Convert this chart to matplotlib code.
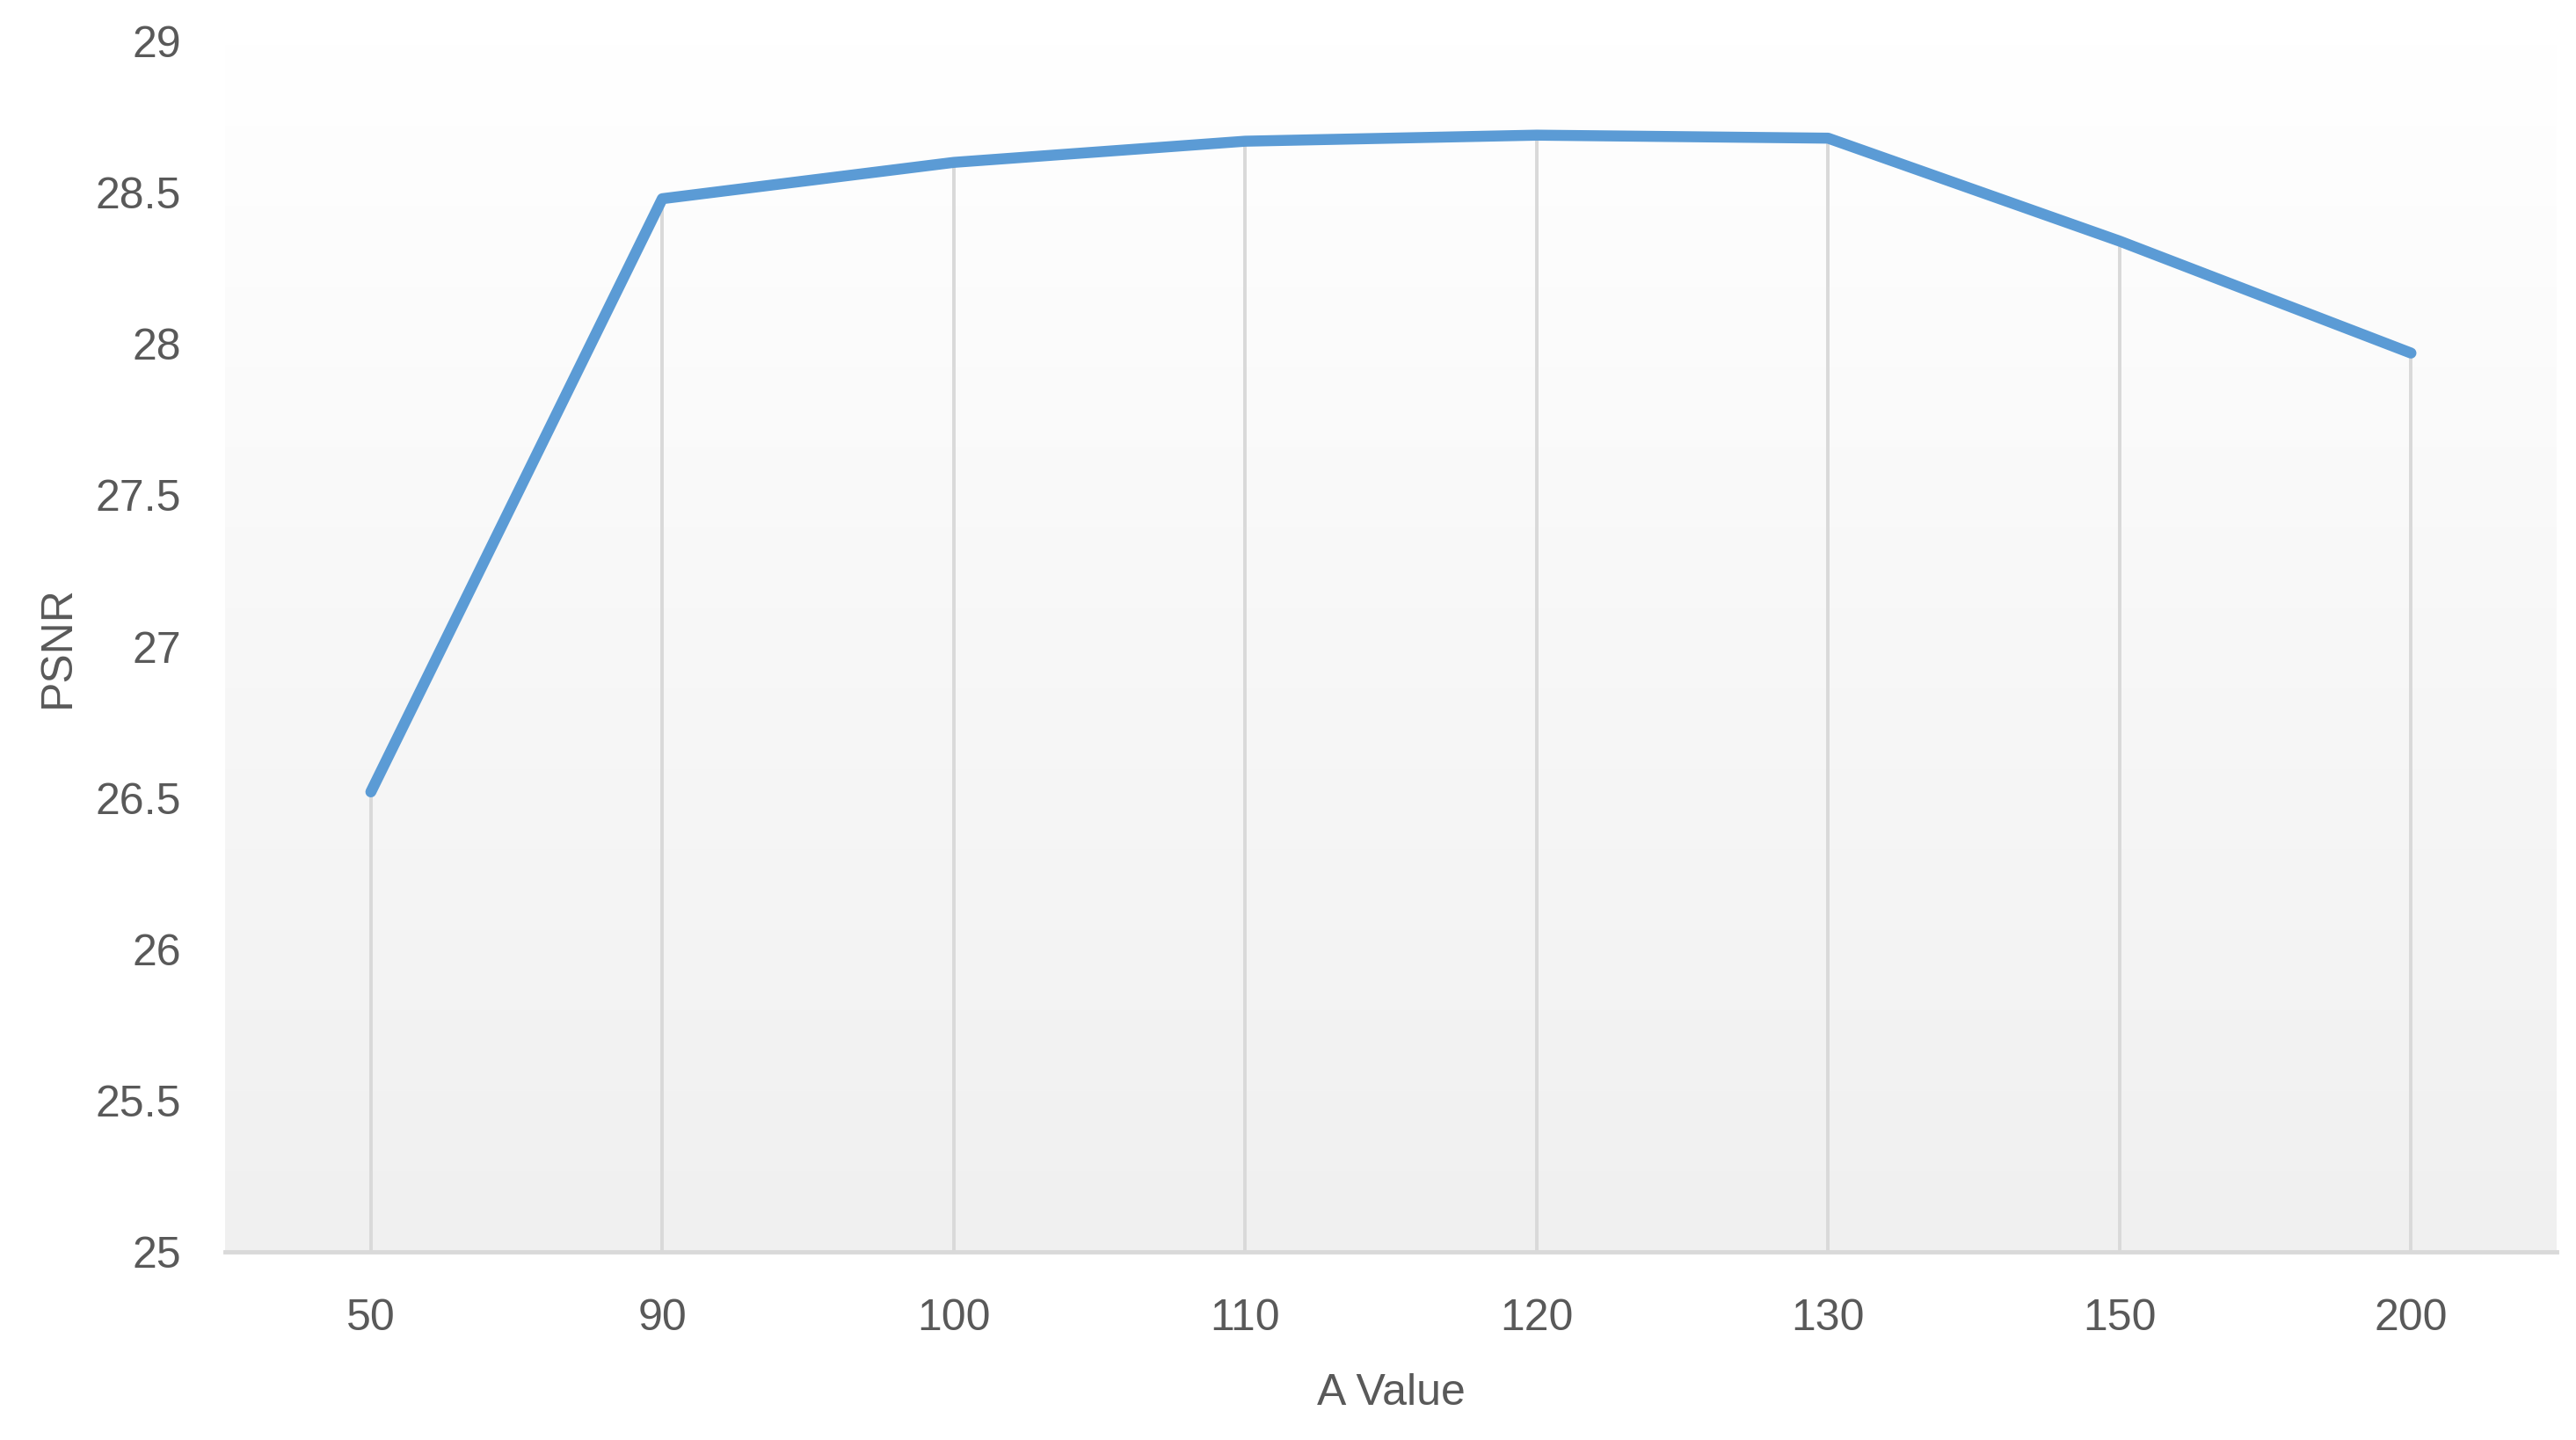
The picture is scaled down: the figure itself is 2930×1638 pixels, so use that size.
import numpy as np
import matplotlib.pyplot as plt
from matplotlib.colors import LinearSegmentedColormap

# Veriler
a_values = ['50', '90', '100', '110', '120', '130', '150', '200']
psnr = [26.52, 28.48, 28.60, 28.67, 28.69, 28.68, 28.34, 27.97]
y_ticks = [25, 25.5, 26, 26.5, 27, 27.5, 28, 28.5, 29]
y_tick_labels = ['25', '25.5', '26', '26.5', '27', '27.5', '28', '28.5', '29']

plt.rcParams['font.family'] = ['Liberation Sans', 'DejaVu Sans']

fig = plt.figure(figsize=(29.30, 16.38), dpi=100)
ax = fig.add_axes([0.0874, 0.1306, 0.9051, 0.8407])

x = np.arange(len(a_values))

# Arka plan gradyanı (üst beyaz, alt açık gri)
grad = np.linspace(1.0, 0.0, 256).reshape(-1, 1)
bg = LinearSegmentedColormap.from_list('bg', ['#F0F0F0', '#FFFFFF'])
ax.imshow(grad, extent=[0, 1, 0, 1], transform=ax.transAxes, aspect='auto',
          cmap=bg, vmin=0, vmax=1, zorder=0)

# Düşey çizgiler
ax.vlines(x, 25, psnr, colors='#D9D9D9', linewidth=2.8, zorder=1)

ax.plot(x, psnr, color='#5B9BD5', linewidth=9, solid_capstyle='round',
        solid_joinstyle='round', zorder=3)

ax.set_xlim(-0.5, len(a_values) - 0.5)
ax.set_ylim(25, 29)
ax.set_xticks(x)
ax.set_xticklabels(a_values)
ax.set_yticks(y_ticks)
ax.set_yticklabels(y_tick_labels)

for s in ['top', 'right', 'left']:
    ax.spines[s].set_visible(False)
ax.spines['bottom'].set_color('#D9D9D9')
ax.spines['bottom'].set_linewidth(3.5)
ax.spines['bottom'].set_zorder(2)

ax.tick_params(axis='both', length=0, labelsize=36, labelcolor='#595959')
ax.tick_params(axis='x', pad=38)
ax.tick_params(axis='y', pad=36)

ax.set_xlabel('A Value', fontsize=36, color='#595959', labelpad=28)
ax.set_ylabel('PSNR', fontsize=36, color='#595959', labelpad=14)

fig.savefig('out.png', dpi=100, facecolor='white')
